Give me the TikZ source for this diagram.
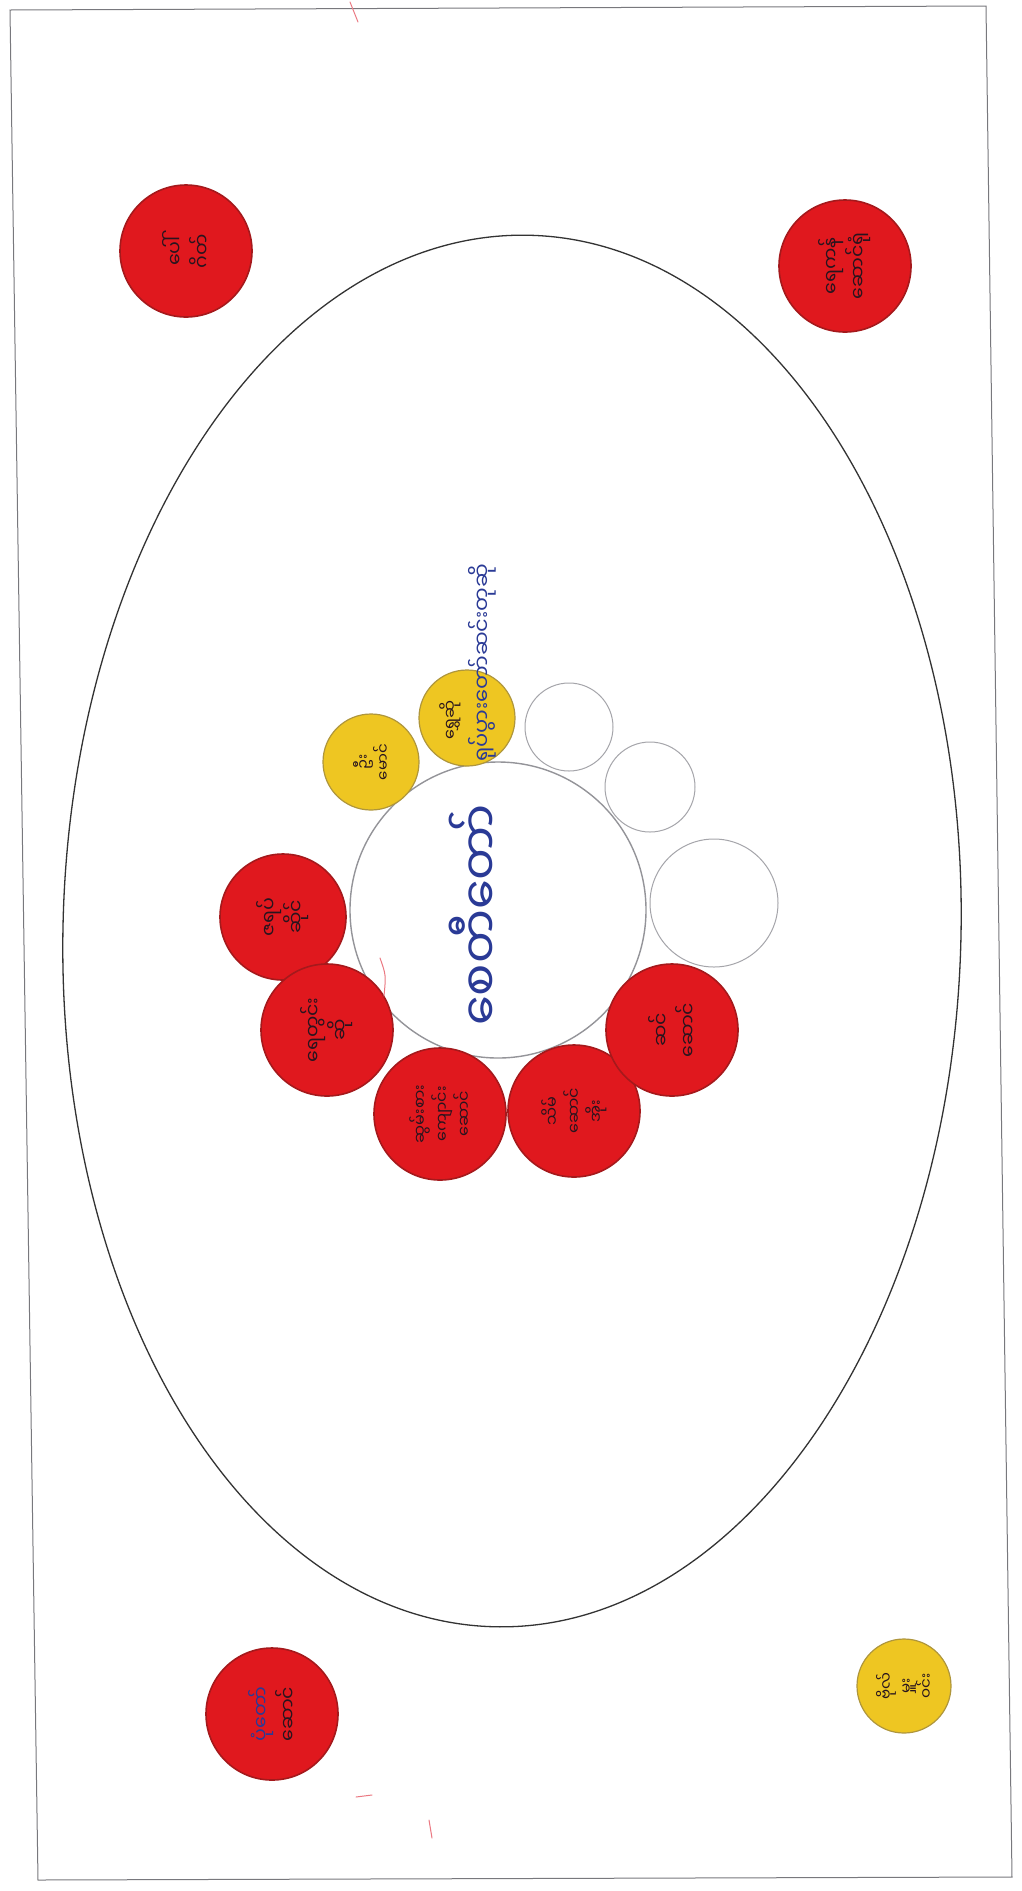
\documentclass[tikz,border=0pt]{standalone}
\usepackage{fontspec}
\newfontfamily\mya[Script=Myanmar]{Noto Sans Myanmar UI}
\definecolor{pinred}{RGB}{224,24,30}
\definecolor{pinedge}{RGB}{165,25,28}
\definecolor{pingold}{RGB}{238,198,34}
\definecolor{goldedge}{RGB}{175,150,60}
\definecolor{inkblue}{RGB}{42,58,150}
\definecolor{inkdark}{RGB}{40,20,30}
\definecolor{pencil}{RGB}{165,165,170}
\definecolor{framegray}{RGB}{120,120,125}
\definecolor{strokepink}{RGB}{235,120,130}
\tikzset{
  disc/.style={circle, inner sep=0pt, rotate=90, align=center, text=inkdark,
    font=\mya\fontsize{19}{27}\selectfont},
  reddisc/.style={disc, fill=pinred, draw=pinedge, line width=1.6pt},
  golddisc/.style={disc, fill=pingold, draw=goldedge, line width=1.2pt},
  emptydisc/.style={disc, draw=pencil, line width=1pt},
  hubdisc/.style={disc, draw=pencil!90!black, line width=1.4pt},
  bluenote/.style={inner sep=0pt, rotate=90, text=inkblue,
    font=\mya\fontsize{21}{27}\selectfont},
  hubtext/.style={inner sep=0pt, rotate=90, text=inkblue,
    font=\mya\fontsize{48}{56}\selectfont},
  stray/.style={draw=strokepink, line width=1pt, line cap=round}
}
\begin{document}
\begin{tikzpicture}[x=1pt,y=-1pt]
\useasboundingbox (0,0) rectangle (1021,1891);
\fill[white] (0,0) rectangle (1021,1891);
% sheet frame
\draw[framegray, line width=1pt] (10,10) -- (986,6) -- (1012,1877) -- (38,1880) -- cycle;
% oval terrace
\draw[black!80, line width=1.3pt, rotate around={-1.5:(512,931)}] (512,931) ellipse [x radius=449, y radius=696];
% central circle
\node[hubdisc, minimum size=296pt] (hub) at (498,910) {};
\node[hubtext] (hubt) at (474,915) {စေတီတော်};
% corner discs
\node[reddisc, minimum size=132pt] (c1) at (186,251) {ပေါ်\\ဂိတ်};
\node[reddisc, minimum size=132pt] (c2) at (845,266) {ရေကန်\\ဆောင်ရုံ};
\node[reddisc, minimum size=132pt] (c3) at (272,1714) {\textcolor{inkblue}{ပုံတော်}\\ဆောင်};
\node[golddisc, minimum size=94pt, font=\mya\fontsize{15}{20}\selectfont] (c4) at (904,1686) {ဗိုလ်\\မှူး\\ဝင်း};
% ring of discs round the centre
\node[reddisc, minimum size=126pt] (c5) at (283,917) {ဇရပ်\\ဆိုင်};
\node[reddisc, minimum size=132pt] (c6) at (327,1030) {ရေတွင်း\\ဆို};
\node[reddisc, minimum size=132pt, font=\mya\fontsize{16}{22}\selectfont] (c7) at (440,1114) {ဆွမ်းစား\\ကျောင်း\\ဆောင်};
\node[reddisc, minimum size=132pt, font=\mya\fontsize{16}{22}\selectfont] (c8) at (574,1111) {သိမ်\\ဆောင်\\အိုး};
\node[reddisc, minimum size=132pt] (c9) at (672,1030) {ဆင်\\ဆောင်};
\node[emptydisc, minimum size=128pt] (w1) at (714,903) {};
\node[emptydisc, minimum size=90pt] (w2) at (650,787) {};
\node[emptydisc, minimum size=88pt] (w3) at (569,727) {};
\node[golddisc, minimum size=96pt, font=\mya\fontsize{15}{20}\selectfont] (y1) at (467,718) {};
\node[golddisc, minimum size=96pt, font=\mya\fontsize{15}{20}\selectfont] (y2) at (371,762) {ဦး\\မောင်};
\node[inner sep=0pt, rotate=90, text=inkdark, font=\mya\fontsize{16}{20}\selectfont] (y1t) at (450,720) {ရွှေဆို};
\node[bluenote, anchor=west] (n1) at (482,762) {ရုပ်ပွားတော်ဆင်းတုဆို};
% stray pen marks on the sheet
\draw[stray] (350,2) -- (358,22);
\draw[stray] (380,958) .. controls (386,975) .. (384,996);
\draw[stray] (429,1820) -- (432,1838);
\draw[stray] (356,1797) -- (372,1795);
\end{tikzpicture}
\end{document}
